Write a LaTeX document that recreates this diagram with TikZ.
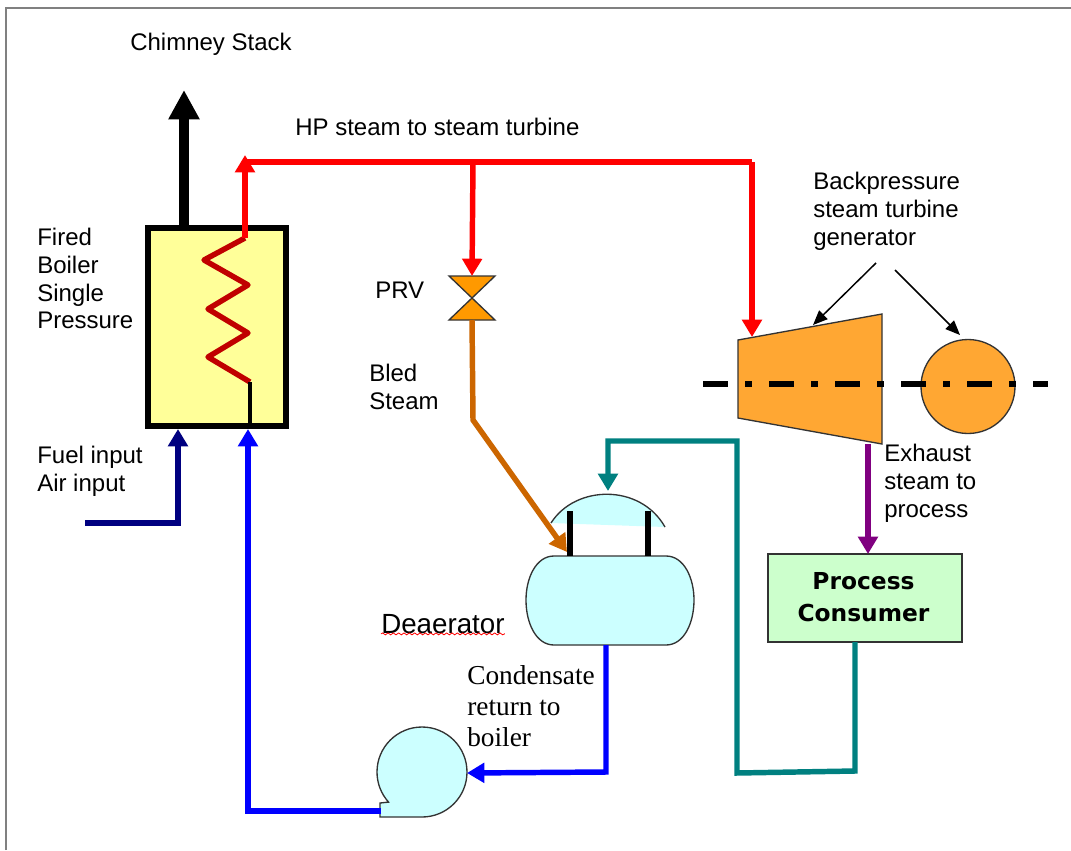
\documentclass[tikz,border=0pt]{standalone}
\usepackage{fontspec}
\setmainfont{Liberation Sans}
\newfontfamily\timesfont{Liberation Serif}
\newfontfamily\boldfont{DejaVu Sans}
\usetikzlibrary{arrows.meta,decorations.pathmorphing}
\definecolor{boilerfill}{HTML}{FFFF99}
\definecolor{coilred}{HTML}{C00000}
\definecolor{bledbrown}{HTML}{CC6600}
\definecolor{vesselfill}{HTML}{CCFFFF}
\definecolor{turbinefill}{HTML}{FFA733}
\definecolor{valvefill}{HTML}{FF9900}
\definecolor{consumerfill}{HTML}{CCFFCC}
\definecolor{edgegrey}{HTML}{333333}
\definecolor{fuelnavy}{HTML}{000080}
\definecolor{returnteal}{HTML}{008080}
\definecolor{exhaustpurple}{HTML}{800080}

\begin{document}
\begin{tikzpicture}[x=0.75pt, y=-0.75pt,
  pipe/.style={line width=4.1pt, -{Triangle[length=13pt,width=14.5pt]}},
  plainpipe/.style={line width=4.1pt},
  pointer/.style={line width=1.1pt, -{Triangle[length=11pt,width=9pt]}},
  equip/.style={draw=edgegrey, line width=1pt, outer sep=0pt, inner sep=0pt},
  label/.style={anchor=north west, inner sep=0pt, align=left, font=\fontsize{18pt}{20.8pt}\selectfont},
  serif label/.style={anchor=north west, inner sep=0pt, align=left, font=\timesfont\fontsize{20.5pt}{23.3pt}\selectfont}]
  \useasboundingbox (0,0) rectangle (1071,850);
  \fill[white] (0,0) rectangle (1071,850);
  \draw[color=gray, line width=1.1pt] (6,850) -- (6,8) -- (1071,8);

  % equipment
  \node[draw=black, fill=boilerfill, line width=4.5pt, outer sep=0pt, minimum width=103.5pt, minimum height=148pt] (boiler) at (217,327) {};
  \node[outer sep=0pt, inner sep=0pt, minimum width=126pt, minimum height=66.75pt] (deaerator) at (610,600.5) {};
  \draw[equip, fill=vesselfill] (554,556) -- (666,556) .. controls (684,556) and (694,578) .. (694,600) .. controls (694,623) and (684,645) .. (666,645) -- (554,645) .. controls (536,645) and (526,623) .. (526,600) .. controls (526,578) and (536,556) .. (554,556) -- cycle;
  \node[equip, fill=consumerfill, minimum width=145.5pt, minimum height=66pt] (consumer) at (865,598) {};
  \node[font=\boldfont\bfseries\fontsize{17.5pt}{24pt}\selectfont, align=center, inner sep=0pt] (consumerlabel) at (863.5,597) {Process\\Consumer};
  \node[outer sep=0pt, inner sep=0pt, circle, minimum size=67.5pt] (pump) at (422,773) {};
  \draw[equip, fill=vesselfill] (380,817) -- (422,817) arc[start angle=90, end angle=-222, radius=45] -- (380,803) -- cycle;
  \draw[equip, fill=turbinefill] (738,340) coordinate (turbinein) -- (882,314) -- (882,444) -- (738,418) -- cycle;
  \node[equip, circle, fill=turbinefill, minimum size=70.5pt] (generator) at (968,386.5) {};

  % deaerator head
  \fill[vesselfill] (551,523) .. controls (575,485) and (640,483) .. (665,527) -- cycle;
  \draw[color=edgegrey, line width=1pt] (551,523) .. controls (575,485) and (640,483) .. (665,527);
  \draw[color=black, line width=3.8pt] (570,511) -- (570,556);
  \draw[color=black, line width=3.8pt] (648,511) -- (648,556);

  % valve
  \coordinate (prvtop) at (472,276);
  \coordinate (prvbottom) at (472,320);
  \draw[equip, fill=valvefill] (449,276) -- (495,276) -- (472,298) -- cycle;
  \draw[equip, fill=valvefill] (449,320) -- (495,320) -- (472,298) -- cycle;

  % coil
  \coordinate (coiltop) at (245,238);
  \coordinate (coilend) at (250,382);
  \draw[color=coilred, line width=4.1pt, line join=round] (coiltop) -- (204,260) -- (248,285) -- (208,309) -- (248,333) -- (208,357) -- (coilend);
  \draw[color=black, line width=3pt] (coilend) -- (coilend |- boiler.south);

  % chimney
  \coordinate (chimney) at (184,90);
  \draw[color=black, line width=7.6pt, -{Triangle[length=22pt,width=22pt]}] (chimney |- boiler.north) -- (chimney);

  % hp steam
  \coordinate (hpcorner) at (245,155);
  \coordinate (hpstart) at (245,162);
  \coordinate (hpend) at (752,162);
  \coordinate (hpbranch) at (473,162);
  \coordinate (turbinetop) at (752,337);
  \draw[pipe, color=red] (coiltop) -- (hpcorner);
  \draw[plainpipe, color=red] (hpstart) -- (hpend);
  \draw[pipe, color=red] (hpend) -- (turbinetop);
  \draw[pipe, color=red] (hpbranch) -- (prvtop);

  % bled steam
  \coordinate (bledbend) at (473,420);
  \coordinate (bledend) at (567,552);
  \draw[pipe, color=bledbrown] (prvbottom) -- (bledbend) -- (bledend);

  % fuel and feed
  \coordinate (fuelstart) at (85,523);
  \coordinate (fuelend) at (178,429);
  \draw[pipe, color=fuelnavy] (fuelstart) -| (fuelend);
  \coordinate (pumpout) at (381,811);
  \coordinate (feedend) at (248,429);
  \draw[pipe, color=blue] (pumpout) -| (feedend);
  \coordinate (condbend) at (606,772);
  \draw[pipe, color=blue] (condbend |- deaerator.south) -- (condbend) -- (pump.east);

  % process return
  \coordinate (retbend) at (855,771);
  \coordinate (retleft) at (737,773);
  \coordinate (rettop) at (737,441);
  \coordinate (retover) at (608,441);
  \coordinate (retend) at (608,491);
  \draw[pipe, color=returnteal] (retbend |- consumer.south) -- (retbend) -- (retleft) -- (rettop) -- (retover) -- (retend);

  % exhaust
  \coordinate (exhaust) at (868,444);
  \draw[pipe, color=exhaustpurple] (exhaust) -- (exhaust |- consumer.north);

  % shaft
  \coordinate (shaftleft) at (703,384);
  \coordinate (shaftright) at (1048,384);
  \draw[color=black, line width=3.8pt, dash pattern=on 18.75pt off 12.75pt on 5.25pt off 12.75pt] (shaftleft) -- (shaftright);

  % generator pointers
  \coordinate (ptrleft) at (876,263);
  \coordinate (ptrleftend) at (813,325);
  \coordinate (ptrright) at (895,270);
  \coordinate (ptrrightend) at (960,335);
  \draw[pointer] (ptrleft) -- (ptrleftend);
  \draw[pointer] (ptrright) -- (ptrrightend);

  % labels
  \node[label] (chimneylabel) at (130,33) {Chimney Stack};
  \node[label] (hplabel) at (295,118) {HP steam to steam turbine};
  \node[label] (boilerlabel) at (37,228) {Fired\\Boiler\\Single\\Pressure};
  \node[label] (fuellabel) at (37,446) {Fuel input\\Air input};
  \node[label] (prvlabel) at (375,282) {PRV};
  \node[label] (bledlabel) at (369,364) {Bled\\Steam};
  \node[label] (turbinelabel) at (813,172) {Backpressure\\steam turbine\\generator};
  \node[label] (exhaustlabel) at (884,444) {Exhaust\\steam to\\process};
  \node[label, font=\fontsize{20.8pt}{24pt}\selectfont] (deaeratorlabel) at (381,614) {Deaerator};
  \node[serif label] (condensatelabel) at (467,665) {Condensate\\return to\\boiler};
  \draw[color=red, line width=0.6pt, decorate, decoration={snake, amplitude=0.7pt, segment length=4pt}] (deaeratorlabel.south west) -- (deaeratorlabel.south east);
\end{tikzpicture}
\end{document}
